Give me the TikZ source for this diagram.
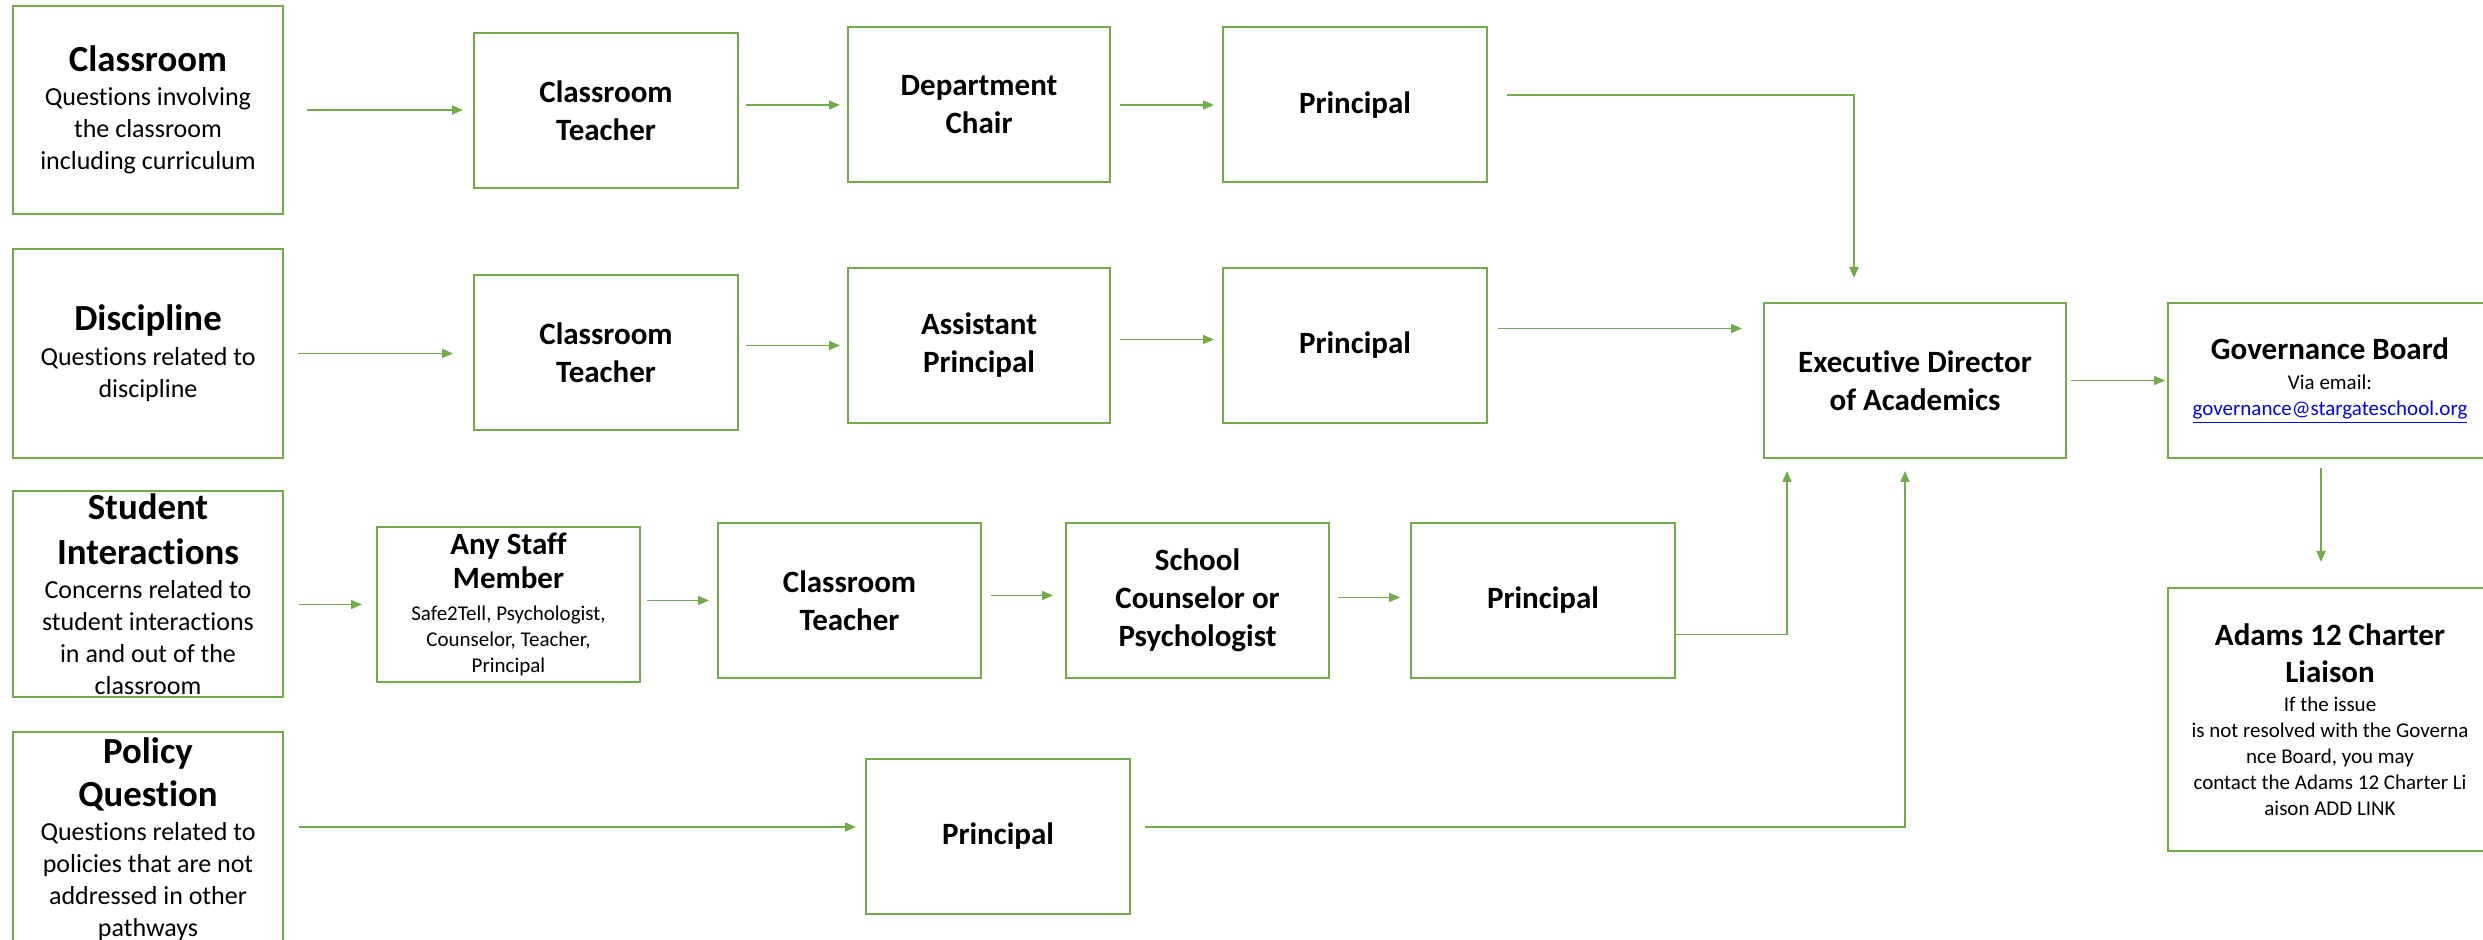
\documentclass[tikz,border=0pt]{standalone}
\usepackage{fontspec}
\setmainfont{Carlito}[Ligatures=NoCommon]
\usepackage{tikz}
\usetikzlibrary{arrows.meta,positioning}

\definecolor{boxgreen}{HTML}{70AD47}
\definecolor{linkblue}{HTML}{0000FF}
\newcommand{\bighd}[1]{{\fontsize{18.4}{22}\selectfont\bfseries #1}}
\newcommand{\midhd}[1]{{\fontsize{15.5}{19}\selectfont\bfseries #1}}

\begin{document}
\begin{tikzpicture}[x=0.5pt, y=-0.5pt,
    source/.style={rectangle, draw=boxgreen, line width=1pt, minimum width=135pt, inner sep=0pt, align=center, font=\fontsize{13}{16}\selectfont},
    stepbox/.style={rectangle, draw=boxgreen, line width=1pt, minimum width=132pt, minimum height=77.5pt, inner sep=0pt, align=center, font=\fontsize{15.5}{19}\selectfont\bfseries},
    infobox/.style={rectangle, draw=boxgreen, line width=1pt, minimum width=162pt, inner sep=0pt, align=center, font=\fontsize{10.5}{13}\selectfont},
    arrow/.style={-{Triangle[length=5.5pt,width=4.5pt]}, draw=boxgreen, line width=0.85pt, shorten <=4pt, shorten >=4pt}
]
\useasboundingbox (0,0) rectangle (2483,940);

% Starting points
\node[source, minimum height=104pt] at (148,110) (classroom) {\bighd{Classroom}\\[1pt]Questions involving\\the classroom\\including curriculum};
\node[source, minimum height=104.5pt] at (148,353.5) (discipline) {\bighd{Discipline}\\[1.5pt]Questions related to\\discipline};
\node[source, minimum height=103pt] at (148,594) (interactions) {\bighd{Student}\\[6.5pt]\bighd{Interactions}\\[1pt]Concerns related to\\student interactions\\in and out of the\\classroom};
\node[source, minimum height=107pt] at (148,839) (policy) {\bighd{Policy}\\[5.3pt]\bighd{Question}\\[1pt]Questions related to\\policies that are not\\addressed in other\\pathways};

% Classroom path
\node[stepbox] at (606,110.5) (teacherA) {Classroom\\Teacher};
\node[stepbox, minimum width=131pt] at (979,105) (chairA) {Department\\Chair};
\node[stepbox] at (1355,105) (principalA) {Principal};

% Discipline path
\node[stepbox] at (606,352.5) (teacherB) {Classroom\\Teacher};
\node[stepbox, minimum width=131pt] at (979,345.5) (assistant) {Assistant\\Principal};
\node[stepbox] at (1355,345.5) (principalB) {Principal};

% Student interactions path
\node[infobox, minimum width=131.5pt, minimum height=77.5pt] at (508.5,604.5) (staff) {\midhd{Any Staff}\\[3pt]\midhd{Member}\\[3pt]Safe2Tell, Psychologist,\\Counselor, Teacher,\\Principal};
\node[stepbox, minimum width=131.5pt] at (849.5,600.5) (teacherC) {Classroom\\Teacher};
\node[stepbox, minimum width=131.5pt] at (1197.5,600.5) (counselor) {School\\Counselor or\\Psychologist};
\node[stepbox] at (1543,600.5) (principalC) {Principal};

% Policy path
\node[stepbox] at (998,836.5) (principalD) {Principal};

% Escalation
\node[stepbox, minimum width=151pt] at (1915,380.5) (executive) {Executive Director\\of Academics};
\node[infobox, minimum height=77.5pt] at (2330,380.5) (governance) {\midhd{Governance Board}\\[2pt]Via email:\\\textcolor{linkblue}{\underline{governance@stargateschool.org}}};
\node[infobox, minimum height=131.5pt] at (2330,719.5) (charter) {\midhd{Adams 12 Charter}\\[5.5pt]\midhd{Liaison}\\[1.5pt]If the issue\\is not resolved with the Governa\\nce Board, you may\\contact the Adams 12 Charter Li\\aison ADD LINK};

% Arrows
\draw[arrow, shorten <=11.5pt, shorten >=5pt] (classroom.east) -- (classroom.east -| teacherA.west);
\draw[arrow, shorten <=3.5pt, shorten >=3.5pt] (teacherA.east |- chairA.west) -- (chairA.west);
\draw[arrow, shorten <=4.5pt] (chairA.east) -- (principalA.west);
\draw[arrow, shorten <=9.5pt, shorten >=12pt] ([yshift=5pt]principalA.east) -| ([xshift=-30.5pt]executive.north);

\draw[arrow, shorten <=7pt, shorten >=10pt] (discipline.east) -- (discipline.east -| teacherB.west);
\draw[arrow, shorten <=3.5pt, shorten >=3.5pt] (teacherB.east |- assistant.west) -- (assistant.west);
\draw[arrow, shorten <=4.5pt] ([yshift=3pt]assistant.east) -- ([yshift=3pt]principalB.west);
\draw[arrow, shorten <=5pt, shorten >=10.5pt] ([yshift=8.5pt]principalB.east) -- ([yshift=8.5pt]principalB.east -| executive.west);
\draw[arrow, shorten <=2pt, shorten >=1pt] (executive.east) -- (governance.west);

\draw[arrow, shorten <=7.5pt, shorten >=7pt] (interactions.east |- staff.west) -- (staff.west);
\draw[arrow, shorten <=3pt] (staff.east |- teacherC.west) -- (teacherC.west);
\draw[arrow, shorten <=4.5pt, shorten >=6pt] ([yshift=2.5pt]teacherC.east) -- ([yshift=2.5pt]counselor.west);
\draw[arrow, shorten >=5pt] ([yshift=1.5pt]counselor.east) -- ([yshift=1.5pt]principalC.west);
\draw[arrow, shorten <=0pt, shorten >=6pt] ([yshift=-17pt]principalC.east) -| ([xshift=-64pt]executive.south);

\draw[arrow, shorten <=7.5pt, shorten >=4.5pt] ([yshift=4.75pt]policy.east |- principalD.west) -- ([yshift=4.75pt]principalD.west);
\draw[arrow, shorten <=7pt, shorten >=6pt] ([yshift=4.75pt]principalD.east) -| ([xshift=-5pt]executive.south);

\draw[arrow, shorten <=4.5pt, shorten >=12.5pt] ([xshift=-4.5pt]governance.south) -- ([xshift=-4.5pt]governance.south |- charter.north);

\end{tikzpicture}
\end{document}
